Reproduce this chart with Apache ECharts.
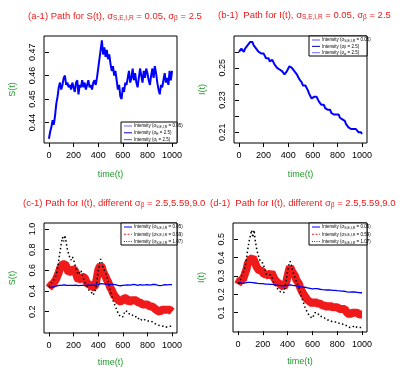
<!DOCTYPE html>
<html><head><meta charset="utf-8">
<script src="https://cdn.jsdelivr.net/npm/echarts@6/dist/echarts.min.js"></script>
<style>html,body{margin:0;padding:0;background:#fff}#c{width:411px;height:376px}</style>
</head><body><div id="c"></div>
<script>
const times=[0,10,20,30,40,50,60,70,80,90,100,110,120,130,140,150,160,170,180,190,200,210,220,230,240,250,260,270,280,290,300,310,320,330,340,350,360,370,380,390,400,410,420,430,440,450,460,470,480,490,500,510,520,530,540,550,560,570,580,590,600,610,620,630,640,650,660,670,680,690,700,710,720,730,740,750,760,770,780,790,800,810,820,830,840,850,860,870,880,890,900,910,920,930,940,950,960,970,980,990,1000];
const xTicks=[0,200,400,600,800,1000];

// (a-1) S(t)
const sPath=[0.433,0.436,0.438,0.441,0.439,0.443,0.448,0.451,0.455,0.457,0.454,0.456,0.459,0.460,0.456,0.457,0.455,0.456,0.454,0.457,0.455,0.453,0.457,0.458,0.452,0.456,0.455,0.458,0.455,0.457,0.454,0.456,0.458,0.455,0.456,0.454,0.457,0.458,0.456,0.459,0.463,0.467,0.471,0.475,0.469,0.472,0.468,0.471,0.467,0.469,0.465,0.462,0.464,0.460,0.462,0.458,0.454,0.456,0.451,0.450,0.455,0.453,0.457,0.456,0.459,0.462,0.457,0.459,0.463,0.458,0.461,0.457,0.455,0.459,0.463,0.460,0.457,0.462,0.459,0.463,0.461,0.458,0.456,0.460,0.463,0.459,0.464,0.461,0.457,0.454,0.452,0.456,0.455,0.458,0.461,0.457,0.459,0.456,0.462,0.458,0.462];
// (b-1) I(t)
const iPath=[0.260,0.261,0.262,0.261,0.260,0.262,0.263,0.264,0.265,0.266,0.265,0.266,0.264,0.263,0.262,0.262,0.260,0.259,0.259,0.258,0.259,0.258,0.256,0.255,0.256,0.254,0.255,0.255,0.254,0.252,0.251,0.250,0.250,0.249,0.248,0.248,0.247,0.246,0.247,0.248,0.249,0.251,0.252,0.250,0.249,0.248,0.248,0.246,0.245,0.243,0.242,0.241,0.239,0.238,0.239,0.238,0.236,0.234,0.233,0.231,0.230,0.232,0.231,0.232,0.231,0.229,0.228,0.227,0.226,0.227,0.225,0.226,0.224,0.223,0.224,0.222,0.222,0.221,0.222,0.221,0.220,0.221,0.219,0.219,0.218,0.218,0.217,0.215,0.214,0.213,0.212,0.212,0.213,0.212,0.213,0.212,0.211,0.210,0.209,0.210,0.209];
// (c-1)
const cRed=[0.43,0.44,0.46,0.45,0.48,0.50,0.52,0.55,0.58,0.62,0.64,0.66,0.67,0.66,0.64,0.61,0.58,0.57,0.59,0.62,0.63,0.60,0.57,0.53,0.51,0.50,0.52,0.54,0.55,0.53,0.50,0.48,0.46,0.45,0.46,0.44,0.43,0.44,0.47,0.53,0.60,0.63,0.65,0.63,0.59,0.56,0.54,0.51,0.49,0.46,0.43,0.41,0.38,0.36,0.35,0.33,0.32,0.30,0.29,0.30,0.31,0.33,0.34,0.33,0.31,0.29,0.30,0.31,0.32,0.31,0.30,0.31,0.29,0.28,0.29,0.28,0.27,0.28,0.27,0.26,0.27,0.26,0.25,0.26,0.25,0.24,0.23,0.23,0.21,0.20,0.20,0.21,0.22,0.23,0.22,0.21,0.22,0.21,0.22,0.21,0.20];
const cBlack=[0.44,0.46,0.45,0.49,0.48,0.53,0.56,0.62,0.70,0.78,0.86,0.92,0.88,0.94,0.87,0.80,0.76,0.72,0.70,0.73,0.71,0.66,0.62,0.58,0.56,0.58,0.60,0.56,0.52,0.49,0.47,0.45,0.42,0.40,0.41,0.38,0.36,0.37,0.42,0.50,0.60,0.66,0.71,0.68,0.62,0.60,0.58,0.54,0.50,0.45,0.40,0.35,0.31,0.28,0.25,0.22,0.19,0.17,0.15,0.14,0.15,0.18,0.21,0.22,0.20,0.18,0.17,0.18,0.17,0.15,0.14,0.15,0.13,0.13,0.14,0.12,0.12,0.13,0.12,0.11,0.12,0.11,0.10,0.11,0.10,0.09,0.09,0.08,0.08,0.07,0.07,0.06,0.07,0.06,0.06,0.05,0.06,0.06,0.05,0.06,0.06];
// (d-1)
const dRed=[0.255,0.26,0.28,0.29,0.28,0.30,0.31,0.34,0.37,0.38,0.39,0.40,0.40,0.39,0.37,0.35,0.34,0.33,0.32,0.33,0.32,0.31,0.30,0.31,0.30,0.30,0.31,0.32,0.31,0.29,0.28,0.27,0.26,0.26,0.25,0.25,0.24,0.24,0.25,0.27,0.30,0.33,0.35,0.34,0.32,0.31,0.30,0.28,0.27,0.26,0.24,0.23,0.21,0.20,0.19,0.18,0.17,0.17,0.16,0.15,0.15,0.16,0.16,0.15,0.15,0.14,0.15,0.15,0.14,0.14,0.14,0.14,0.13,0.14,0.14,0.13,0.13,0.14,0.13,0.13,0.13,0.13,0.12,0.13,0.12,0.12,0.12,0.11,0.10,0.10,0.09,0.10,0.10,0.10,0.10,0.10,0.10,0.10,0.09,0.10,0.09];
const dBlack=[0.26,0.27,0.28,0.30,0.29,0.33,0.36,0.40,0.45,0.49,0.52,0.55,0.51,0.55,0.49,0.45,0.42,0.40,0.38,0.39,0.37,0.35,0.33,0.31,0.30,0.31,0.32,0.30,0.28,0.26,0.25,0.24,0.23,0.22,0.22,0.21,0.20,0.21,0.24,0.28,0.33,0.36,0.38,0.36,0.33,0.31,0.29,0.27,0.26,0.24,0.22,0.19,0.17,0.15,0.13,0.12,0.10,0.09,0.08,0.07,0.07,0.08,0.10,0.11,0.10,0.09,0.08,0.09,0.08,0.07,0.07,0.07,0.06,0.06,0.06,0.05,0.05,0.06,0.05,0.05,0.05,0.04,0.04,0.05,0.04,0.04,0.03,0.03,0.03,0.03,0.02,0.03,0.02,0.02,0.03,0.02,0.02,0.03,0.02,0.02,0.02];

const FONT='"Liberation Sans", Arial, sans-serif';
const RED='#f01a1a', GREEN='#1f9a2a', BLUE='#0000ff';
const pairs=v=>times.map((t,i)=>[t,v[i]]);

const grids=[
  {left:44,top:36,width:133,height:107},
  {left:234,top:36,width:133,height:107},
  {left:44,top:223,width:133,height:110},
  {left:233,top:223,width:134,height:109}
].map(g=>Object.assign(g,{show:true,borderColor:'#000',borderWidth:1,backgroundColor:'transparent'}));

function xAx(gi){return {type:'value',gridIndex:gi,min:-40,max:1040,splitLine:{show:false},
  axisLine:{show:false},axisTick:{show:true,length:4,customValues:xTicks,lineStyle:{color:'#000'}},
  axisLabel:{customValues:xTicks,color:'#000',fontSize:9,margin:8,fontFamily:FONT,formatter:v=>String(v)},
  name:'time(t)',nameLocation:'middle',nameGap:gi<2?27:25,nameTextStyle:{color:GREEN,fontSize:9,fontFamily:FONT}};}
function yAx(gi,min,max,ticks,labels,dec,name){return {type:'value',gridIndex:gi,min:min,max:max,splitLine:{show:false},
  axisLine:{show:false},axisTick:{show:true,length:4,customValues:ticks,lineStyle:{color:'#000'}},
  axisLabel:{customValues:labels,rotate:90,color:'#000',fontSize:9,margin:7,fontFamily:FONT,formatter:v=>v.toFixed(dec)},
  name:name,nameLocation:'middle',nameGap:27,nameRotate:90,nameTextStyle:{color:GREEN,fontSize:9,fontFamily:FONT}};}

const aTicks=[0.44,0.45,0.46,0.47];
const bTicks=[0.21,0.22,0.23,0.24,0.25,0.26], bLabels=[0.21,0.23,0.25];
const cTicks=[0.2,0.4,0.6,0.8,1.0];
const dTicks=[0.1,0.2,0.3,0.4,0.5];

function line(gi,data,color,width,type){return {type:'line',xAxisIndex:gi,yAxisIndex:gi,data:pairs(data),showSymbol:false,
  lineStyle:{color:color,width:width,type:type||'solid'},silent:true,animation:false};}

const series=[
  line(0,sPath,BLUE,2),
  line(1,iPath,BLUE,2),
  line(2,cRed,RED,8),
  line(2,sPath,BLUE,1.3),
  line(2,cBlack,'#000',1.5,[1.5,2.5]),
  line(3,dRed,RED,8),
  line(3,iPath,BLUE,1.3),
  line(3,dBlack,'#000',1.5,[1.5,2.5])
];

const titleRich={n:{fontSize:9.5,color:RED,fontFamily:FONT},s:{fontSize:6.5,color:RED,fontFamily:FONT,padding:[5,0,0,0]}};
function title(x,y,txt){return {type:'text',left:x,top:y,z:10,style:{text:txt,rich:titleRich,fill:RED,font:'9.5px '+FONT}};}

const legRich={n:{fontSize:4.5,color:'#000',fontFamily:FONT},s:{fontSize:3.5,color:'#000',fontFamily:FONT,padding:[2,0,0,0]}};
function legend(x,y,w,h,rows){
  const ch=[{type:'rect',shape:{x:x,y:y,width:w,height:h},style:{fill:'#fff',stroke:'#000',lineWidth:1}}];
  rows.forEach((r,i)=>{
    const yy=y+4+i*(h-6)/2.2;
    ch.push({type:'line',shape:{x1:x+3,y1:yy,x2:x+11,y2:yy},style:{stroke:r.c,lineWidth:1,lineDash:r.d||null}});
    ch.push({type:'text',x:x+13,y:yy-3,style:{text:r.t,rich:legRich,font:'4.5px '+FONT,fill:'#000'}});
  });
  return {type:'group',z:20,children:ch};
}
const lgA=[{c:'#6a6aff',t:'{n|Intensity (σ}{s|S,E,I,R}{n| = 0.05)}'},{c:'#0000b0',t:'{n|Intensity (σ}{s|E}{n| = 2.5)}'},{c:'#5050ff',t:'{n|Intensity (σ}{s|I}{n| = 2.5)}'}];
const lgB=[{c:'#5050ff',t:'{n|Intensity (σ}{s|S,E,I,R}{n| = 0.05)}'},{c:'#0000b0',t:'{n|Intensity (σ}{s|β}{n| = 2.5)}'},{c:'#6a6aff',t:'{n|Intensity (σ}{s|α}{n| = 2.5)}'}];
const lgC=[{c:BLUE,t:'{n|Intensity (σ}{s|S,E,I,R}{n| = 0.05)}'},{c:RED,d:[2,1.5],t:'{n|Intensity (σ}{s|S,E,I,R}{n| = 0.59)}'},{c:'#000',d:[0.8,1.5],t:'{n|Intensity (σ}{s|S,E,I,R}{n| = 1.07)}'}];

const option={
  animation:false,
  grid:grids,
  xAxis:[0,1,2,3].map(xAx),
  yAxis:[
    yAx(0,0.4312,0.4769,aTicks,aTicks,2,'S(t)'),
    yAx(1,0.2033,0.2698,bTicks,bLabels,2,'I(t)'),
    yAx(2,-0.006,1.058,cTicks,cTicks,1,'S(t)'),
    yAx(3,-0.005,0.589,dTicks,dTicks,1,'I(t)')
  ],
  series:series,
  graphic:[
    title(28,11,'{n|(a-1) Path for S(t), σ}{s|S,E,I,R}{n| = 0.05, σ}{s|β}{n| = 2.5}'),
    title(218,10,'{n|(b-1)  Path for I(t), σ}{s|S,E,I,R}{n| = 0.05, σ}{s|β}{n| = 2.5}'),
    title(23,198,'{n|(c-1) Path for I(t), different σ}{s|β}{n| = 2.5,5.59,9.07}'),
    {type:'rect',z:15,shape:{x:205,y:192,width:5,height:22},style:{fill:'#fff'}},
    Object.assign(title(210,198,'{n|(d-1)  Path for I(t), different σ}{s|β}{n| = 2.5,5.59,9.0}'),{z:16}),
    legend(121,122,56,21,lgA),
    legend(309,36,58,20,lgB),
    legend(121,223,56,22,lgC),
    legend(309,223,58,22,lgC)
  ]
};
const chart=echarts.init(document.getElementById('c'),null,{renderer:'canvas'});
chart.setOption(option);
</script></body></html>
